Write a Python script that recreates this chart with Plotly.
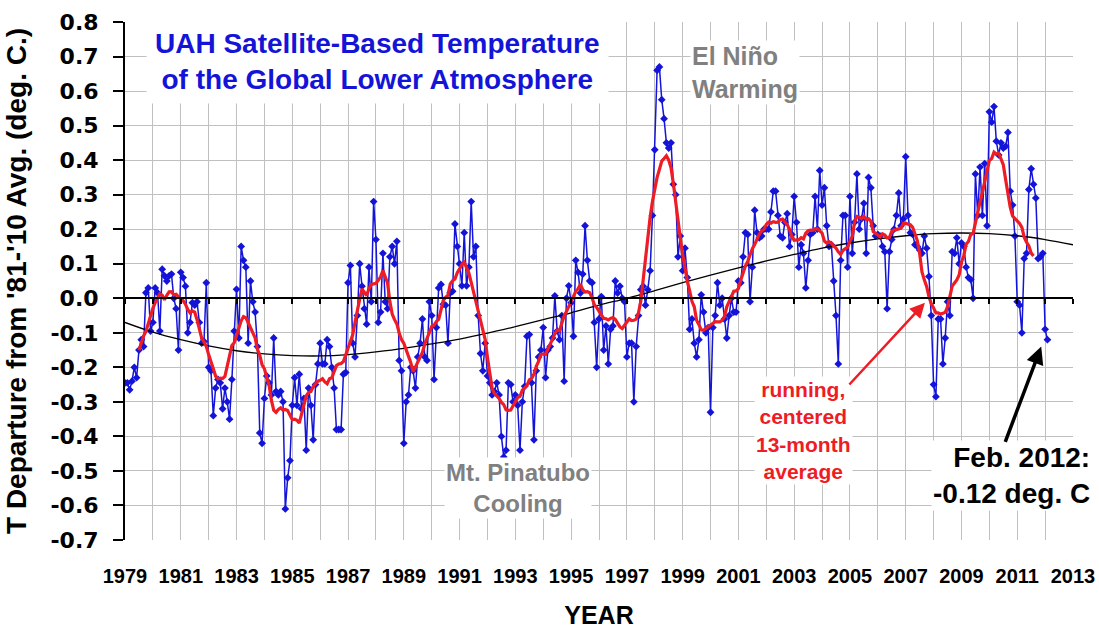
import pandas as pd
import plotly.graph_objects as go

# Monthly lower-troposphere anomalies (deg C, relative to 1981-2010), Jan..Dec
a1979 = [-0.245, -0.245, -0.265, -0.24, -0.20, -0.23, -0.15, -0.12, -0.14, 0.016, 0.03, -0.095]
a1980 = [-0.07, 0.03, 0.016, -0.095, 0.084, 0.065, 0.05, 0.065, 0.07, 0.0, -0.03, -0.15]
a1981 = [0.075, 0.06, 0.035, -0.10, -0.07, -0.013, -0.02, -0.01, -0.07, -0.13, -0.125, 0.045]
a1982 = [-0.20, -0.21, -0.34, -0.26, -0.235, -0.245, -0.32, -0.26, -0.30, -0.35, -0.235, -0.095]
a1983 = [0.026, -0.115, 0.15, 0.11, 0.09, -0.13, 0.05, -0.01, -0.04, -0.14, -0.39, -0.42]
a1984 = [-0.29, -0.225, -0.245, -0.28, -0.115, -0.27, -0.28, -0.27, -0.30, -0.61, -0.52, -0.47]
a1985 = [-0.31, -0.23, -0.31, -0.22, -0.32, -0.29, -0.44, -0.26, -0.31, -0.41, -0.25, -0.19]
a1986 = [-0.13, -0.19, -0.19, -0.12, -0.14, -0.20, -0.26, -0.38, -0.38, -0.38, -0.22, -0.215]
a1987 = [0.045, 0.095, -0.13, -0.17, -0.05, 0.10, 0.035, -0.03, -0.075, 0.09, -0.01, 0.28]
a1988 = [0.17, -0.07, -0.04, 0.13, -0.01, -0.03, 0.12, 0.15, 0.10, 0.165, -0.18, -0.21]
a1989 = [-0.42, -0.30, -0.28, -0.20, -0.21, -0.26, -0.17, -0.13, -0.06, -0.17, -0.18, -0.01]
a1990 = [-0.05, -0.235, -0.085, 0.03, 0.04, -0.017, -0.02, -0.13, 0.016, 0.02, 0.215, 0.15]
a1991 = [0.10, 0.036, 0.19, 0.036, 0.09, 0.28, 0.12, 0.15, -0.05, -0.16, -0.21, -0.13]
a1992 = [-0.225, -0.245, -0.28, -0.27, -0.245, -0.28, -0.40, -0.46, -0.44, -0.245, -0.25, -0.30]
a1993 = [-0.28, -0.31, -0.44, -0.30, -0.255, -0.11, -0.105, -0.245, -0.41, -0.21, -0.17, -0.15]
a1994 = [-0.085, -0.23, -0.15, -0.14, -0.115, 0.007, -0.095, -0.12, -0.05, -0.24, 0.0, 0.036]
a1995 = [-0.013, -0.11, 0.11, 0.075, 0.015, 0.07, 0.21, 0.11, 0.05, 0.045, -0.07, -0.20]
a1996 = [-0.06, 0.005, -0.15, -0.08, -0.19, -0.09, -0.08, 0.05, 0.015, 0.035, 0.0, -0.01]
a1997 = [-0.17, -0.13, -0.13, -0.30, -0.14, -0.05, 0.025, 0.035, -0.02, 0.025, 0.08, 0.24]
a1998 = [0.43, 0.66, 0.67, 0.575, 0.52, 0.45, 0.435, 0.45, 0.33, 0.30, 0.12, 0.18]
a1999 = [0.08, 0.145, 0.06, -0.09, -0.06, -0.13, -0.17, -0.12, 0.01, -0.04, -0.10, -0.085]
a2000 = [-0.33, -0.085, -0.05, 0.045, -0.02, 0.0, -0.06, -0.115, -0.05, 0.0, -0.04, -0.04]
a2001 = [0.05, 0.045, 0.12, 0.19, 0.185, -0.01, 0.09, 0.255, 0.19, 0.175, 0.18, 0.20]
a2002 = [0.20, 0.20, 0.25, 0.31, 0.31, 0.24, 0.18, 0.175, 0.22, 0.245, 0.15, 0.185]
a2003 = [0.295, 0.22, 0.09, 0.155, 0.13, 0.03, 0.11, 0.185, 0.19, 0.295, 0.20, 0.37]
a2004 = [0.27, 0.32, 0.21, 0.15, 0.155, 0.05, -0.05, -0.19, 0.11, 0.24, 0.24, 0.09]
a2005 = [0.295, 0.13, 0.22, 0.36, 0.20, 0.23, 0.275, 0.13, 0.35, 0.32, 0.21, 0.18]
a2006 = [0.185, 0.18, 0.15, 0.135, -0.03, 0.135, 0.17, 0.20, 0.24, 0.305, 0.21, 0.23]
a2007 = [0.41, 0.24, 0.19, 0.185, 0.155, 0.15, 0.14, 0.13, 0.18, 0.145, 0.063, -0.05]
a2008 = [-0.25, -0.285, -0.06, -0.06, -0.19, -0.115, -0.01, -0.05, 0.135, 0.13, 0.175, 0.10]
a2009 = [0.16, 0.15, 0.09, 0.06, 0.054, 0.0, 0.36, 0.24, 0.38, 0.24, 0.39, 0.21]
a2010 = [0.54, 0.51, 0.555, 0.455, 0.415, 0.45, 0.435, 0.44, 0.48, 0.31, 0.27, 0.18]
a2011 = [-0.01, -0.02, -0.10, 0.115, 0.13, 0.315, 0.375, 0.33, 0.29, 0.115, 0.12, 0.13]
a2012 = [-0.09, -0.12]

first_year = 1979
yearly = [a1979, a1980, a1981, a1982, a1983, a1984, a1985, a1986, a1987, a1988,
          a1989, a1990, a1991, a1992, a1993, a1994, a1995, a1996, a1997, a1998,
          a1999, a2000, a2001, a2002, a2003, a2004, a2005, a2006, a2007, a2008,
          a2009, a2010, a2011, a2012]

# Long-term smooth curve, sampled once per year
trend_years = list(range(1979, 2014))
trend_vals = [-0.07, -0.098, -0.12, -0.138, -0.152, -0.161, -0.166, -0.167, -0.163, -0.155,
              -0.145, -0.132, -0.118, -0.101, -0.082, -0.062, -0.042, -0.02, 0.0, 0.022,
              0.045, 0.067, 0.088, 0.108, 0.127, 0.145, 0.16, 0.172, 0.181, 0.187,
              0.189, 0.187, 0.181, 0.17, 0.155]

y_tick_vals = [-0.7, -0.6, -0.5, -0.4, -0.3, -0.2, -0.1, 0.0, 0.1, 0.2, 0.3, 0.4, 0.5, 0.6, 0.7, 0.8]
y_tick_text = ["-0.7", "-0.6", "-0.5", "-0.4", "-0.3", "-0.2", "-0.1", "0.0",
               "0.1", "0.2", "0.3", "0.4", "0.5", "0.6", "0.7", "0.8"]
x_tick_vals = list(range(1979, 2014))
x_tick_text = [str(y) if (y - 1979) % 2 == 0 else "" for y in x_tick_vals]

# decimal-year time axis for the monthly series
t, anom = [], []
for k, vals in enumerate(yearly):
    for m, val in enumerate(vals):
        t.append(first_year + k + m / 12.0)
        anom.append(val)

running13 = pd.Series(anom).rolling(13, center=True).mean()

BLUE = "#1414d8"
RED = "#ee1c24"
GRID = "#c0c0c0"
FONT = "Liberation Sans, Arial, sans-serif"

fig = go.Figure()
fig.add_trace(go.Scatter(
    x=t, y=anom, mode="lines+markers",
    line=dict(color=BLUE, width=1.5),
    marker=dict(symbol="diamond", size=6, color=BLUE),
    showlegend=False, hoverinfo="x+y"))
fig.add_trace(go.Scatter(
    x=trend_years, y=trend_vals, mode="lines",
    line=dict(color="black", width=1.3, shape="spline", smoothing=1.0),
    showlegend=False, hoverinfo="skip"))
fig.add_trace(go.Scatter(
    x=t, y=running13, mode="lines",
    line=dict(color=RED, width=3.2),
    showlegend=False, hoverinfo="skip"))
# carrier for the horizontal axis drawn through zero
fig.add_trace(go.Scatter(x=[], y=[], xaxis="x2", showlegend=False, hoverinfo="skip"))

fig.update_layout(
    width=1099, height=629,
    margin=dict(l=125, r=26, t=22, b=89),
    paper_bgcolor="white", plot_bgcolor="white",
    font=dict(family=FONT, color="black"),
    xaxis=dict(
        range=[1979, 2013], tickvals=x_tick_vals, ticktext=x_tick_text,
        showgrid=True, gridcolor=GRID, gridwidth=1, automargin=False,
        ticks="", ticklabelstandoff=22, showline=False, zeroline=False,
        tickfont=dict(family=FONT, size=20, weight="bold", color="black"),
        title=dict(text="YEAR", standoff=21,
                   font=dict(family=FONT, size=25, weight="bold", color="black")),
    ),
    xaxis2=dict(
        overlaying="x", anchor="free", position=0.7 / 1.5,
        range=[1979, 2013], tickvals=x_tick_vals,
        showgrid=False, zeroline=False, showticklabels=False,
        ticks="outside", ticklen=5, tickwidth=1.5, tickcolor="black",
        showline=True, linecolor="black", linewidth=2,
    ),
    yaxis=dict(
        range=[-0.7, 0.8], tickvals=y_tick_vals, ticktext=y_tick_text,
        showgrid=True, gridcolor=GRID, gridwidth=1, zeroline=False, automargin=False,
        showline=True, linecolor="black", linewidth=2,
        ticks="outside", ticklen=10, tickwidth=2, tickcolor="black",
        ticklabelstandoff=10,
        tickfont=dict(family="DejaVu Sans", size=22, weight="bold", color="black"),
        title=dict(text="T Departure from '81-'10 Avg. (deg. C.)", standoff=16,
                   font=dict(family=FONT, size=28, weight="bold", color="black")),
    ),
)

annotations = [
    dict(x=1988.05, y=0.685, xref="x", yref="y", xanchor="center", yanchor="middle",
         text="UAH Satellite-Based Temperature<br>of the Global Lower Atmosphere",
         showarrow=False, align="center", bgcolor="white", borderpad=8,
         font=dict(family=FONT, size=28, weight="bold", color=BLUE)),
    dict(x=1999.27, y=0.655, xref="x", yref="y", xanchor="left", yanchor="middle",
         text="El Niño<br>Warming", showarrow=False, align="left", bgcolor="white",
         font=dict(family=FONT, size=25, weight="bold", color="#808080")),
    dict(x=1993.1, y=-0.549, xref="x", yref="y", xanchor="center", yanchor="middle",
         text="Mt. Pinatubo<br>Cooling", showarrow=False, align="center", bgcolor="white",
         font=dict(family=FONT, size=24, weight="bold", color="#808080")),
    dict(x=2003.35, y=-0.384, xref="x", yref="y", xanchor="center", yanchor="middle",
         text="running,<br>centered<br>13-month<br>average", showarrow=False,
         align="center", bgcolor="white",
         font=dict(family=FONT, size=21, weight="bold", color=RED)),
    dict(x=(1092 - 125) / 948, y=-0.513, xref="paper", yref="y",
         xanchor="right", yanchor="middle",
         text=f"Feb. 2012:<br>{anom[-1]:.2f} deg. C", showarrow=False, align="right",
         bgcolor="white",
         font=dict(family=FONT, size=28, weight="bold", color="black")),
    dict(x=2007.69, y=-0.013, xref="x", yref="y", ax=2004.93, ay=-0.254,
         axref="x", ayref="y", text="", showarrow=True, arrowhead=2, arrowsize=1.2,
         arrowwidth=2.5, arrowcolor=RED, standoff=0),
    dict(x=2011.86, y=-0.14, xref="x", yref="y", ax=2010.55, ay=-0.42,
         axref="x", ayref="y", text="", showarrow=True, arrowhead=2, arrowsize=1,
         arrowwidth=3.5, arrowcolor="black", standoff=0),
]
fig.update_layout(annotations=annotations)

fig.write_html("out.html")
